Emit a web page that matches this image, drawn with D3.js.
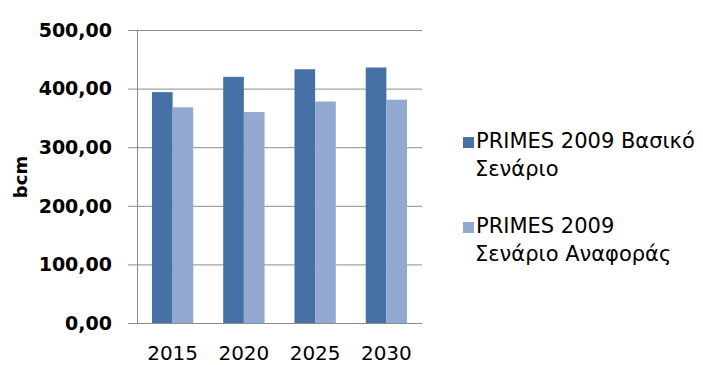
<!DOCTYPE html>
<html>
<head>
<meta charset="utf-8">
<script src="https://cdn.jsdelivr.net/npm/d3@7"></script>
<style>
  body { margin: 0; background: #fff; }
  svg text { font-family: "DejaVu Sans", sans-serif; fill: #000; }
</style>
</head>
<body>
<svg id="chart" width="703" height="365"></svg>
<script>
// data
var years = ["2015", "2020", "2025", "2030"];
var seriesNames = ["PRIMES 2009 Βασικό Σενάριο", "PRIMES 2009 Σενάριο Αναφοράς"];
var baseScenario = [394, 420, 433, 436];
var refScenario = [368, 360, 378, 381];
var yTicks = [0, 100, 200, 300, 400, 500];

var colors = ["#4571a6", "#93a9d1"];
var legendLines = [["PRIMES 2009 Βασικό", "Σενάριο"], ["PRIMES 2009", "Σενάριο Αναφοράς"]];

var svg = d3.select("#chart");

var x = d3.scaleBand().domain(years).range([137, 422])
    .paddingInner(0.42).paddingOuter(0.21);
var x1 = d3.scaleBand().domain([0, 1]).range([0, x.bandwidth()]);
var y = d3.scaleLinear().domain([0, 500]).range([323, 30]);

var fmt = function(d) { return d3.format(".2f")(d).replace(".", ","); };

// gridlines
svg.append("g")
    .selectAll("line")
    .data(yTicks)
    .join("line")
    .attr("x1", 128).attr("x2", 422)
    .attr("y1", function(d) { return y(d) + 0.5; })
    .attr("y2", function(d) { return y(d) + 0.5; })
    .attr("stroke", "#8c8c8c")
    .attr("stroke-width", 1);

// vertical axis line
svg.append("line")
    .attr("x1", 137.5).attr("x2", 137.5)
    .attr("y1", y(500)).attr("y2", y(0))
    .attr("stroke", "#8c8c8c");

// bars
var series = [baseScenario, refScenario];
var groups = svg.append("g").selectAll("g")
    .data(years)
    .join("g")
    .attr("transform", function(d) { return "translate(" + x(d) + ",0)"; });

groups.selectAll("rect")
    .data(function(d, i) { return series.map(function(s, j) { return {k: j, v: s[i]}; }); })
    .join("rect")
    .attr("x", function(d) { return x1(d.k); })
    .attr("width", x1.bandwidth())
    .attr("y", function(d) { return y(d.v); })
    .attr("height", function(d) { return y(0) - y(d.v); })
    .attr("fill", function(d) { return colors[d.k]; });

// y tick labels
svg.append("g")
    .selectAll("text")
    .data(yTicks)
    .join("text")
    .attr("x", 112)
    .attr("y", function(d) { return y(d); })
    .attr("dy", "0.36em")
    .attr("text-anchor", "end")
    .style("font-size", "19px")
    .style("font-weight", "bold")
    .text(fmt);

// x tick labels
svg.append("g")
    .selectAll("text")
    .data(years)
    .join("text")
    .attr("x", function(d) { return x(d) + x.bandwidth() / 2; })
    .attr("y", 360)
    .attr("text-anchor", "middle")
    .style("font-size", "20px")
    .text(function(d) { return d; });

// axis title
svg.append("text")
    .attr("transform", "translate(27,177) rotate(-90)")
    .attr("text-anchor", "middle")
    .style("font-size", "18px")
    .style("font-weight", "bold")
    .text("bcm");

// legend
var legend = svg.append("g").selectAll("g")
    .data(seriesNames)
    .join("g")
    .attr("transform", function(d, i) { return "translate(463," + (137 + i * 85) + ")"; });

legend.append("rect")
    .attr("width", 11).attr("height", 11)
    .attr("fill", function(d, i) { return colors[i]; });

legend.append("text")
    .style("font-size", "21px")
    .selectAll("tspan")
    .data(function(d, i) { return legendLines[i]; })
    .join("tspan")
    .attr("x", function(d, i) { return i === 0 ? 13 : 12; })
    .attr("y", function(d, i) { return 11 + i * 28; })
    .text(function(d) { return d; });
</script>
</body>
</html>
